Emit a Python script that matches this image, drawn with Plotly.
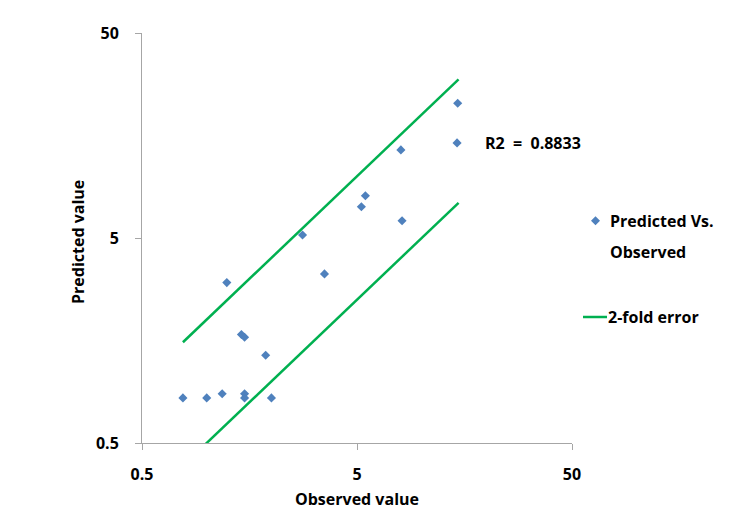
import plotly.graph_objects as go

# Data (log-log scatter)
observed = [0.775, 1.0, 1.18, 1.50, 1.50, 2.0, 1.24, 1.45, 1.50, 1.88,
            2.79, 3.53, 5.24, 5.47, 8.1, 8.0, 14.7, 14.6]
predicted = [0.83, 0.83, 0.87, 0.87, 0.83, 0.83, 3.03, 1.69, 1.64, 1.34,
             5.17, 3.34, 7.1, 8.04, 6.07, 13.45, 22.7, 14.55]

# 2-fold error lines
line_x = [0.775, 14.84]
upper_y = [1.55, 29.68]
lower_y = [0.3875, 7.42]

tick_vals = [0.5, 5, 50]
tick_text = ["0.5", "5", "50"]

BLUE = "#4f81bd"
GREEN = "#00b050"
FONT = "Open Sans"

fig = go.Figure()
fig.add_trace(go.Scatter(x=observed, y=predicted, mode="markers",
                         marker=dict(symbol="diamond", size=7, color=BLUE),
                         name="Predicted Vs. Observed", showlegend=False))
fig.add_trace(go.Scatter(x=line_x, y=upper_y, mode="lines",
                         line=dict(color=GREEN, width=2.5),
                         name="2-fold error", showlegend=False))
fig.add_trace(go.Scatter(x=line_x, y=lower_y, mode="lines",
                         line=dict(color=GREEN, width=2.5),
                         name="2-fold error", showlegend=False))

axis_common = dict(
    type="log", range=[-0.30103, 1.69897],
    tickvals=tick_vals, ticktext=tick_text,
    showgrid=False, zeroline=False,
    showline=True, linecolor="#a6a6a6", linewidth=1,
    ticks="outside", ticklen=6, tickcolor="#a6a6a6", tickwidth=1,
    tickfont=dict(family=FONT, size=16, color="#000000", weight="bold"),
)

fig.update_xaxes(**axis_common, ticklabelstandoff=11)
fig.update_yaxes(**axis_common, ticklabelstandoff=13)

# plot area in window pixels (page body has an 8px offset)
PW, PH, L, T = 430.0, 410.0, 142.0, 33.0
def px(x):
    return (x - L) / PW
def py(y):
    return (T + PH - y) / PH

ann_font = dict(family=FONT, size=16, color="#000000", weight="bold")
annotations = [
    dict(text="Observed value", x=0.5, y=py(499), xref="paper", yref="paper",
         xanchor="center", yanchor="middle", showarrow=False, font=ann_font),
    dict(text="Predicted value", x=px(78), y=py(242), xref="paper", yref="paper",
         xanchor="center", yanchor="middle", showarrow=False, font=ann_font,
         textangle=-90),
    dict(text="R2  =  0.8833", x=px(483), y=py(143), xref="paper", yref="paper",
         xanchor="left", yanchor="middle", showarrow=False, font=ann_font),
    dict(text="Predicted Vs.", x=px(608), y=py(221), xref="paper", yref="paper",
         xanchor="left", yanchor="middle", showarrow=False, font=ann_font),
    dict(text="Observed", x=px(608), y=py(252), xref="paper", yref="paper",
         xanchor="left", yanchor="middle", showarrow=False, font=ann_font),
    dict(text="2-fold error", x=px(606), y=py(317), xref="paper", yref="paper",
         xanchor="left", yanchor="middle", showarrow=False, font=ann_font),
]

shapes = [
    dict(type="path", xref="paper", yref="paper", xsizemode="pixel", ysizemode="pixel",
         xanchor=px(595.5), yanchor=py(220.7),
         path="M -4.5 0 L 0 4.5 L 4.5 0 L 0 -4.5 Z",
         fillcolor=BLUE, line=dict(width=0)),
    dict(type="line", xref="paper", yref="paper",
         x0=px(583), x1=px(607), y0=py(317), y1=py(317),
         line=dict(color=GREEN, width=2.5)),
]

fig.update_layout(
    width=747, height=508,
    margin=dict(l=134, r=183, t=25, b=73, pad=0),
    paper_bgcolor="white", plot_bgcolor="white",
    showlegend=False,
    annotations=annotations, shapes=shapes,
)

fig.write_html("out.html")
